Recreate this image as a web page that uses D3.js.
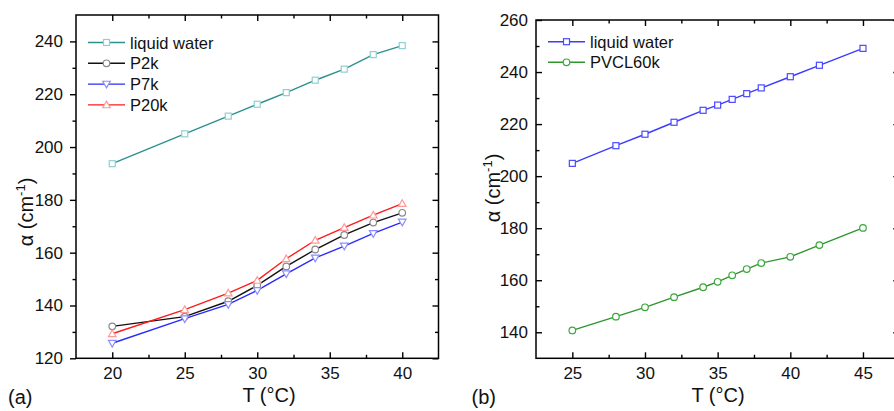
<!DOCTYPE html>
<html>
<head>
<meta charset="utf-8">
<script src="https://cdn.jsdelivr.net/npm/d3@7"></script>
<style>
  body { margin: 0; background: #fff; }
  svg { display: block; font-family: "Liberation Sans", Arial, sans-serif; }
</style>
</head>
<body>
<svg id="chart" width="894" height="411"></svg>
<script>
// panel (a)
var tempsA = [20, 25, 28, 30, 32, 34, 36, 38, 40];
var waterA = [193.7, 205.0, 211.7, 216.2, 220.6, 225.3, 229.5, 235.0, 238.4];
var p2k = [132.1, 135.8, 141.6, 147.6, 154.8, 161.2, 166.7, 171.4, 175.1];
var p7k = [125.7, 135.0, 140.4, 145.7, 152.0, 158.0, 162.5, 167.3, 171.6];
var p20k = [129.3, 138.4, 144.7, 149.5, 157.7, 164.7, 169.5, 174.2, 178.6];
var xTicksA = [20, 25, 30, 35, 40];
var yTicksA = [120, 140, 160, 180, 200, 220, 240];

// panel (b)
var tempsB = [25, 28, 30, 32, 34, 35, 36, 37, 38, 40, 42, 45];
var waterB = [204.9, 211.7, 216.1, 220.7, 225.3, 227.3, 229.5, 231.7, 233.9, 238.2, 242.6, 249.1];
var pvcl60k = [140.7, 146.0, 149.6, 153.5, 157.3, 159.4, 161.9, 164.3, 166.6, 169.0, 173.5, 180.1];
var xTicksB = [25, 30, 35, 40, 45];
var yTicksB = [140, 160, 180, 200, 220, 240, 260];

var svg = d3.select("#chart");

function drawPanel(p) {
  var x = d3.scaleLinear().domain(p.xDomain).range([p.left, p.right]);
  var y = d3.scaleLinear().domain(p.yDomain).range([p.bottom, p.top]);
  var g = svg.append("g");

  var xMinor = d3.range(p.xDomain[0], p.xDomain[1] + 0.01, 2.5).filter(function(v) {
    return p.xTicks.indexOf(v) < 0 && v > p.xDomain[0] && v < p.xDomain[1];
  });
  var yMinor = d3.range(p.yDomain[0], p.yDomain[1] + 0.01, 10).filter(function(v) {
    return p.yTicks.indexOf(v) < 0 && v > p.yDomain[0] && v < p.yDomain[1];
  });

  function addAxis(axis, tr, labels) {
    var a = g.append("g").attr("transform", tr).call(axis);
    a.select(".domain").remove();
    a.selectAll("line").attr("stroke", "#000").attr("stroke-width", 1.4);
    if (labels) {
      a.selectAll("text").attr("font-size", 17).attr("fill", "#111");
    } else {
      a.selectAll("text").remove();
    }
  }

  // bottom (inward)
  addAxis(d3.axisBottom(x).tickValues(p.xTicks).tickSize(-6).tickPadding(9).tickFormat(d3.format("d")), "translate(0," + p.bottom + ")", true);
  addAxis(d3.axisBottom(x).tickValues(xMinor).tickSize(-3.5), "translate(0," + p.bottom + ")", false);
  // top (inward)
  addAxis(d3.axisTop(x).tickValues(p.xTicks).tickSize(-6), "translate(0," + p.top + ")", false);
  addAxis(d3.axisTop(x).tickValues(xMinor).tickSize(-3.5), "translate(0," + p.top + ")", false);
  // left
  addAxis(d3.axisLeft(y).tickValues(p.yTicks).tickSize(p.leftOut ? 6 : -6).tickPadding(p.leftOut ? 7 : 8).tickFormat(d3.format("d")), "translate(" + p.left + ",0)", true);
  addAxis(d3.axisLeft(y).tickValues(yMinor).tickSize(p.leftOut ? 3.5 : -3.5), "translate(" + p.left + ",0)", false);
  // right (inward)
  addAxis(d3.axisRight(y).tickValues(p.yTicks).tickSize(-6), "translate(" + p.right + ",0)", false);
  addAxis(d3.axisRight(y).tickValues(yMinor).tickSize(-3.5), "translate(" + p.right + ",0)", false);

  g.append("rect")
    .attr("x", p.left).attr("y", p.top)
    .attr("width", p.right - p.left).attr("height", p.bottom - p.top)
    .attr("fill", "none").attr("stroke", "#000").attr("stroke-width", 1.5);

  var line = d3.line()
    .x(function(d) { return x(d[0]); })
    .y(function(d) { return y(d[1]); });

  p.series.forEach(function(s) {
    var pts = p.temps.map(function(t, i) { return [t, s.values[i]]; });
    g.append("path").datum(pts)
      .attr("d", line).attr("fill", "none")
      .attr("stroke", s.line).attr("stroke-width", 1.4);
    pts.forEach(function(d) {
      marker(g, s.shape, x(d[0]), y(d[1]), s.mark);
    });
  });

  // legend
  p.series.forEach(function(s, i) {
    var ly = p.legendY + i * p.legendStep;
    g.append("line")
      .attr("x1", p.legendX).attr("x2", p.legendX + 37)
      .attr("y1", ly).attr("y2", ly)
      .attr("stroke", s.line).attr("stroke-width", 1.4);
    marker(g, s.shape, p.legendX + 18.5, ly, s.mark);
    g.append("text")
      .attr("x", p.legendX + 42).attr("y", ly + 6)
      .attr("font-size", 16.5).attr("fill", "#111")
      .text(s.name);
  });

  // axis titles
  g.append("text")
    .attr("x", p.xTitleX).attr("y", 402)
    .attr("text-anchor", "middle").attr("font-size", 20).attr("fill", "#111")
    .text("T (°C)");

  var yt = g.append("text")
    .attr("transform", "translate(" + p.yTitleX + "," + p.yTitleY + ") rotate(-90)")
    .attr("text-anchor", "middle").attr("font-size", 20).attr("fill", "#111");
  yt.append("tspan").text("α (cm");
  yt.append("tspan").attr("font-size", 13).attr("dy", -8).text("-1");
  yt.append("tspan").attr("dy", 8).text(")");

  g.append("text")
    .attr("x", p.tagX).attr("y", 404)
    .attr("font-size", 20).attr("fill", "#111")
    .text(p.tag);
}

function marker(g, shape, cx, cy, color) {
  var sw = 1.2;
  if (shape === "square") {
    g.append("rect")
      .attr("x", cx - 3).attr("y", cy - 3).attr("width", 6).attr("height", 6)
      .attr("fill", "#fff").attr("stroke", color).attr("stroke-width", sw);
  } else if (shape === "circle") {
    g.append("circle")
      .attr("cx", cx).attr("cy", cy).attr("r", 3.3)
      .attr("fill", "#fff").attr("stroke", color).attr("stroke-width", sw);
  } else {
    var h = 3.8;
    var pts = shape === "up"
      ? [[cx, cy - h], [cx + h, cy + h * 0.75], [cx - h, cy + h * 0.75]]
      : [[cx, cy + h], [cx + h, cy - h * 0.75], [cx - h, cy - h * 0.75]];
    g.append("polygon")
      .attr("points", pts.map(function(q) { return q.join(","); }).join(" "))
      .attr("fill", "#fff").attr("stroke", color).attr("stroke-width", sw);
  }
}

drawPanel({
  left: 76, right: 438.5, top: 15, bottom: 358.3,
  xDomain: [17.5, 42.5], yDomain: [120, 250],
  xTicks: xTicksA, yTicks: yTicksA, leftOut: true,
  temps: tempsA,
  series: [
    { name: "liquid water", values: waterA, shape: "square", line: "#2b9090", mark: "#8fd0d0" },
    { name: "P2k", values: p2k, shape: "circle", line: "#111", mark: "#8a8a8a" },
    { name: "P7k", values: p7k, shape: "down", line: "#2a2aff", mark: "#8c8cff" },
    { name: "P20k", values: p20k, shape: "up", line: "#ff1a1a", mark: "#ff9a9a" }
  ],
  legendX: 88, legendY: 42.5, legendStep: 20.8,
  xTitleX: 269, yTitleX: 33, yTitleY: 212,
  tag: "(a)", tagX: 8
});

drawPanel({
  left: 536, right: 899.3, top: 20, bottom: 358.3,
  xDomain: [22.5, 47.5], yDomain: [130, 260],
  xTicks: xTicksB, yTicks: yTicksB, leftOut: false,
  temps: tempsB,
  series: [
    { name: "liquid water", values: waterB, shape: "square", line: "#3c3cff", mark: "#4a4aff" },
    { name: "PVCL60k", values: pvcl60k, shape: "circle", line: "#2f962f", mark: "#3aa83a" }
  ],
  legendX: 548, legendY: 41.7, legendStep: 20.6,
  xTitleX: 718, yTitleX: 500, yTitleY: 188,
  tag: "(b)", tagX: 471.5
});
</script>
</body>
</html>
